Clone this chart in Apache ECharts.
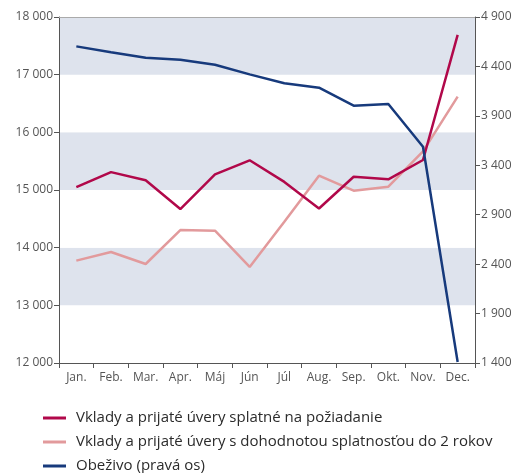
<!DOCTYPE html>
<html><head><meta charset="utf-8">
<script src="https://cdn.jsdelivr.net/npm/echarts@6/dist/echarts.min.js"></script>
<style>html,body{margin:0;padding:0;background:#fff}#c{width:518px;height:473px}</style>
</head><body><div id="c"></div>
<script>
const months = ["Jan.","Feb.","Mar.","Apr.","Máj","Jún","Júl","Aug.","Sep.","Okt.","Nov.","Dec."];
const demandDeposits = [15050,15310,15170,14670,15270,15515,15140,14680,15230,15185,15520,17690];
const termDeposits = [13775,13925,13717,14306,14294,13665,14450,15248,14988,15057,15670,16618];
const currency = [4603,4543,4488,4468,4417,4320,4229,4185,4003,4020,3588,1410];
const seriesNames = ["Vklady a prijaté úvery splatné na požiadanie","Vklady a prijaté úvery s dohodnotou splatnosťou do 2 rokov","Obeživo (pravá os)"];
const leftTicks = {min:12000,max:18000,interval:1000};
const rightTicks = {min:1400,max:4900,interval:500};

const fmt = v => String(v).replace(/\B(?=(\d{3})+(?!\d))/g, ' ');
const font = '"Open Sans", "Noto Sans", sans-serif';
const chart = echarts.init(document.getElementById('c'));
chart.setOption({
  animation:false,
  textStyle:{fontFamily:font},
  grid:{left:59,right:43,top:17,bottom:110},
  legend:{
    orient:'vertical', left:43, top:410, padding:0, height:120, itemWidth:23, itemHeight:3, itemGap:8,
    icon:'rect',
    textStyle:{fontSize:15, lineHeight:16, color:'#2b2b2b', fontFamily:font, padding:[0,0,0,5]},
    data:seriesNames
  },
  xAxis:[{
    type:'category', data:months, boundaryGap:true,
    axisLine:{lineStyle:{color:'#555'}},
    axisTick:{show:true, alignWithLabel:false, length:5, lineStyle:{color:'#555'}},
    axisLabel:{color:'#555', fontSize:12, margin:9, interval:0}
  },{
    type:'category', data:months, position:'top', boundaryGap:true,
    axisLine:{lineStyle:{color:'#aaa'}}, axisTick:{show:false}, axisLabel:{show:false}
  }],
  yAxis:[{
    type:'value', min:leftTicks.min, max:leftTicks.max, interval:leftTicks.interval,
    axisLine:{show:true, lineStyle:{color:'#555'}},
    axisTick:{show:true, length:5, lineStyle:{color:'#555'}},
    axisLabel:{color:'#555', fontSize:12, margin:6, formatter:fmt},
    splitLine:{show:false},
    splitArea:{show:true, areaStyle:{color:['#ffffff','#dee3ed']}}
  },{
    type:'value', min:rightTicks.min, max:rightTicks.max, interval:rightTicks.interval,
    position:'right',
    axisLine:{show:true, lineStyle:{color:'#555'}},
    axisTick:{show:true, length:5, lineStyle:{color:'#555'}},
    axisLabel:{color:'#555', fontSize:12, margin:6, formatter:fmt},
    splitLine:{show:false}
  }],
  series:[
    {name:seriesNames[0], type:'line', data:demandDeposits, yAxisIndex:0, symbol:'none',
     lineStyle:{width:2.5, color:'#b1084a'}, itemStyle:{color:'#b1084a'}, z:3},
    {name:seriesNames[1], type:'line', data:termDeposits, yAxisIndex:0, symbol:'none',
     lineStyle:{width:2.5, color:'#e29a9c'}, itemStyle:{color:'#e29a9c'}, z:2},
    {name:seriesNames[2], type:'line', data:currency, yAxisIndex:1, symbol:'none',
     lineStyle:{width:2.5, color:'#173a7c'}, itemStyle:{color:'#173a7c'}, z:4}
  ]
});
</script></body></html>
